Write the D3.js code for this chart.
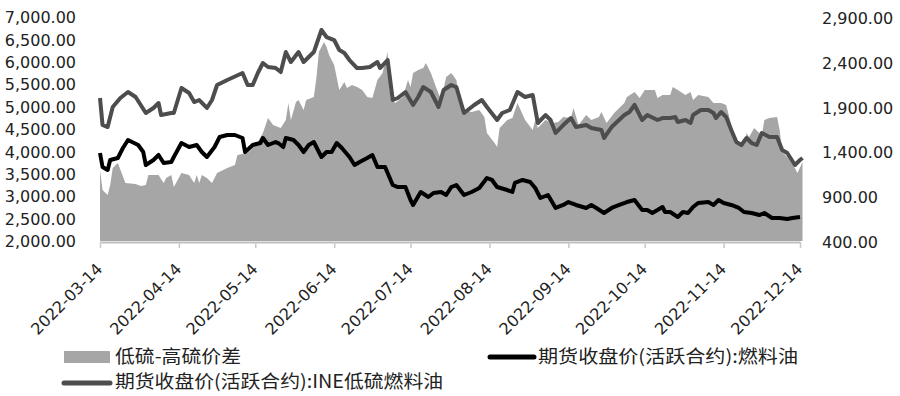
<!DOCTYPE html>
<html>
<head>
<meta charset="utf-8">
<script src="https://cdn.jsdelivr.net/npm/d3@7"></script>
<style>
  body { margin: 0; background: #fff; }
  svg text { font-family: "DejaVu Sans", sans-serif; fill: #222; }
  .legend text { font-family: "Noto Sans CJK SC", sans-serif; }
</style>
</head>
<body>
<div id="chart"></div>
<script>
// tick values
const xTicks = ["2022-03-14","2022-04-14","2022-05-14","2022-06-14","2022-07-14",
                "2022-08-14","2022-09-14","2022-10-14","2022-11-14","2022-12-14"];
const leftTicks  = [2000,2500,3000,3500,4000,4500,5000,5500,6000,6500,7000];
const rightTicks = [400,900,1400,1900,2400,2900];

// series names
const seriesNames = ["低硫-高硫价差", "期货收盘价(活跃合约):燃料油", "期货收盘价(活跃合约):INE低硫燃料油"];

// 低硫-高硫价差 (right axis)
const spread = [
  ["2022-03-14",1192],["2022-03-15",969],["2022-03-17",913],["2022-03-18",1025],["2022-03-19",1215],
  ["2022-03-21",1270],["2022-03-24",1047],["2022-03-28",1036],["2022-03-30",1014],["2022-04-01",1025],
  ["2022-04-02",1137],["2022-04-06",1137],["2022-04-08",1047],["2022-04-09",1103],["2022-04-11",1137],
  ["2022-04-12",1003],["2022-04-15",1159],["2022-04-18",1137],["2022-04-20",1047],["2022-04-21",1137],
  ["2022-04-22",1047],["2022-04-23",1137],["2022-04-25",1103],["2022-04-27",1047],["2022-04-29",1159],
  ["2022-05-03",1215],["2022-05-06",1248],["2022-05-07",1360],["2022-05-11",1382],["2022-05-13",1438],
  ["2022-05-15",1505],["2022-05-17",1605],["2022-05-19",1773],["2022-05-21",1695],["2022-05-23",1672],
  ["2022-05-24",1661],["2022-05-26",1750],["2022-05-27",1940],["2022-05-28",1750],["2022-05-30",1951],
  ["2022-05-31",1974],["2022-06-02",1862],["2022-06-03",1974],["2022-06-06",2007],["2022-06-07",2219],
  ["2022-06-08",2509],["2022-06-10",2621],["2022-06-11",2565],["2022-06-12",2476],["2022-06-14",2364],
  ["2022-06-16",2085],["2022-06-18",2174],["2022-06-19",2107],["2022-06-21",2141],["2022-06-23",2119],
  ["2022-06-25",2085],["2022-06-27",2007],["2022-06-29",1996],["2022-07-01",2197],["2022-07-03",2275],
  ["2022-07-05",2509],["2022-07-06",2007],["2022-07-08",1940],["2022-07-11",2007],["2022-07-13",2197],
  ["2022-07-14",2119],["2022-07-15",2275],["2022-07-17",2308],["2022-07-19",2331],["2022-07-20",2386],
  ["2022-07-22",2275],["2022-07-24",2119],["2022-07-26",1974],["2022-07-28",2230],["2022-07-30",2275],
  ["2022-08-01",2197],["2022-08-02",2007],["2022-08-04",1862],["2022-08-07",1840],["2022-08-10",1862],
  ["2022-08-12",1784],["2022-08-13",1605],["2022-08-16",1494],["2022-08-17",1449],["2022-08-18",1661],
  ["2022-08-21",1750],["2022-08-23",1773],["2022-08-25",1940],["2022-08-28",1750],["2022-08-31",1639],
  ["2022-09-01",1750],["2022-09-02",1661],["2022-09-05",1750],["2022-09-08",1717],["2022-09-10",1728],
  ["2022-09-12",1784],["2022-09-15",1773],["2022-09-16",1884],["2022-09-18",1695],["2022-09-21",1806],
  ["2022-09-23",1750],["2022-09-26",1784],["2022-09-27",1840],["2022-09-29",1717],["2022-10-02",1828],
  ["2022-10-06",1940],["2022-10-07",2007],["2022-10-10",2063],["2022-10-12",1996],["2022-10-14",2085],
  ["2022-10-18",2085],["2022-10-19",1996],["2022-10-21",2029],["2022-10-24",2029],["2022-10-25",2119],
  ["2022-10-27",2085],["2022-10-30",2029],["2022-11-01",2063],["2022-11-02",1974],["2022-11-04",2029],
  ["2022-11-08",2007],["2022-11-10",1940],["2022-11-13",1940],["2022-11-15",1918],["2022-11-16",1806],
  ["2022-11-18",1583],["2022-11-20",1471],["2022-11-22",1471],["2022-11-23",1605],["2022-11-24",1561],
  ["2022-11-26",1661],["2022-11-28",1605],["2022-11-29",1583],["2022-11-30",1750],["2022-12-02",1773],
  ["2022-12-05",1784],["2022-12-06",1639],["2022-12-07",1393],["2022-12-09",1337],["2022-12-12",1215],
  ["2022-12-13",1159],["2022-12-15",1282]
];

// 期货收盘价(活跃合约):燃料油 (left axis)
const fu = [
  ["2022-03-14",3964],["2022-03-15",3652],["2022-03-17",3585],["2022-03-18",3808],["2022-03-21",3853],
  ["2022-03-23",4076],["2022-03-25",4254],["2022-03-29",4143],["2022-03-31",3986],["2022-04-01",3696],
  ["2022-04-04",3808],["2022-04-06",3920],["2022-04-08",3741],["2022-04-11",3763],["2022-04-12",3875],
  ["2022-04-15",4187],["2022-04-18",4098],["2022-04-21",4143],["2022-04-23",3986],["2022-04-25",3875],
  ["2022-04-28",4098],["2022-04-30",4321],["2022-05-03",4366],["2022-05-06",4366],["2022-05-09",4299],
  ["2022-05-10",3986],["2022-05-13",4143],["2022-05-16",4187],["2022-05-17",4299],["2022-05-19",4143],
  ["2022-05-22",4210],["2022-05-23",4187],["2022-05-25",4098],["2022-05-26",4299],["2022-05-29",4254],
  ["2022-05-31",4143],["2022-06-02",3986],["2022-06-04",4143],["2022-06-06",4210],["2022-06-09",3875],
  ["2022-06-11",3986],["2022-06-13",3986],["2022-06-15",4187],["2022-06-17",4076],["2022-06-20",3875],
  ["2022-06-22",3696],["2022-06-24",3763],["2022-06-27",3853],["2022-06-29",3920],["2022-07-01",3652],
  ["2022-07-04",3652],["2022-07-07",3250],["2022-07-09",3205],["2022-07-12",3205],["2022-07-14",2915],
  ["2022-07-15",2804],["2022-07-18",3094],["2022-07-21",2982],["2022-07-23",3071],["2022-07-26",3094],
  ["2022-07-28",3027],["2022-07-30",3205],["2022-08-01",3250],["2022-08-04",3027],["2022-08-07",3094],
  ["2022-08-10",3183],["2022-08-13",3406],["2022-08-15",3362],["2022-08-17",3205],["2022-08-21",3138],
  ["2022-08-23",3094],["2022-08-24",3295],["2022-08-27",3362],["2022-08-30",3317],["2022-09-01",3183],
  ["2022-09-03",2960],["2022-09-06",3027],["2022-09-09",2737],["2022-09-12",2804],["2022-09-14",2870],
  ["2022-09-17",2804],["2022-09-21",2737],["2022-09-23",2804],["2022-09-25",2737],["2022-09-28",2625],
  ["2022-10-01",2737],["2022-10-04",2804],["2022-10-07",2870],["2022-10-10",2915],["2022-10-13",2692],
  ["2022-10-15",2692],["2022-10-17",2625],["2022-10-19",2692],["2022-10-21",2759],["2022-10-22",2647],
  ["2022-10-24",2647],["2022-10-27",2536],["2022-10-29",2647],["2022-10-31",2625],["2022-11-02",2759],
  ["2022-11-04",2848],["2022-11-08",2870],["2022-11-10",2804],["2022-11-12",2915],["2022-11-14",2848],
  ["2022-11-17",2804],["2022-11-20",2737],["2022-11-22",2647],["2022-11-25",2625],["2022-11-28",2580],
  ["2022-11-30",2625],["2022-12-03",2513],["2022-12-06",2513],["2022-12-09",2491],["2022-12-11",2513],
  ["2022-12-14",2536]
];

// 期货收盘价(活跃合约):INE低硫燃料油 (left axis)
const lu = [
  ["2022-03-14",5192],["2022-03-15",4589],["2022-03-17",4544],["2022-03-19",4991],["2022-03-22",5192],
  ["2022-03-25",5326],["2022-03-28",5214],["2022-03-30",5036],["2022-04-01",4857],["2022-04-04",4969],
  ["2022-04-06",5080],["2022-04-07",4812],["2022-04-11",4857],["2022-04-12",4857],["2022-04-15",5415],
  ["2022-04-18",5303],["2022-04-20",5102],["2022-04-22",5147],["2022-04-25",4969],["2022-04-27",5147],
  ["2022-04-29",5482],["2022-05-03",5594],["2022-05-09",5750],["2022-05-11",5482],["2022-05-13",5482],
  ["2022-05-15",5750],["2022-05-17",5973],["2022-05-19",5884],["2022-05-22",5861],["2022-05-24",5772],
  ["2022-05-26",6218],["2022-05-28",5995],["2022-05-31",6218],["2022-06-02",5995],["2022-06-06",6218],
  ["2022-06-09",6710],["2022-06-11",6553],["2022-06-14",6486],["2022-06-16",6263],["2022-06-18",6196],
  ["2022-06-20",6040],["2022-06-23",5861],["2022-06-25",5861],["2022-06-28",5884],["2022-07-01",5995],
  ["2022-07-02",5861],["2022-07-05",6040],["2022-07-07",5147],["2022-07-09",5192],["2022-07-12",5326],
  ["2022-07-15",5036],["2022-07-17",5214],["2022-07-19",5437],["2022-07-22",5326],["2022-07-25",4991],
  ["2022-07-27",5370],["2022-07-30",5482],["2022-08-01",5437],["2022-08-04",4857],["2022-08-08",5036],
  ["2022-08-11",5147],["2022-08-13",4991],["2022-08-17",4701],["2022-08-19",4857],["2022-08-22",4924],
  ["2022-08-25",5326],["2022-08-28",5214],["2022-08-31",5259],["2022-09-02",4634],["2022-09-05",4812],
  ["2022-09-07",4701],["2022-09-09",4411],["2022-09-12",4589],["2022-09-15",4745],["2022-09-17",4544],
  ["2022-09-21",4589],["2022-09-23",4522],["2022-09-27",4478],["2022-09-28",4299],["2022-10-01",4544],
  ["2022-10-06",4812],["2022-10-08",4879],["2022-10-10",5036],["2022-10-12",4812],["2022-10-13",4701],
  ["2022-10-15",4812],["2022-10-19",4701],["2022-10-21",4745],["2022-10-24",4745],["2022-10-26",4768],
  ["2022-10-27",4656],["2022-10-30",4701],["2022-11-01",4634],["2022-11-02",4812],["2022-11-05",4924],
  ["2022-11-08",4924],["2022-11-10",4857],["2022-11-11",4745],["2022-11-13",4879],["2022-11-15",4768],
  ["2022-11-17",4478],["2022-11-19",4210],["2022-11-21",4143],["2022-11-23",4299],["2022-11-25",4187],
  ["2022-11-27",4143],["2022-11-29",4411],["2022-12-02",4321],["2022-12-05",4321],["2022-12-07",4031],
  ["2022-12-09",3964],["2022-12-12",3696],["2022-12-14",3808],["2022-12-15",3853]
];

const W = 900, H = 396;
const parse = d3.timeParse("%Y-%m-%d");

const svg = d3.select("#chart").append("svg")
  .attr("width", W).attr("height", H);

const x = d3.scaleTime()
  .domain([parse(xTicks[0]), parse(xTicks[xTicks.length - 1])])
  .range([100, 800]);
const yL = d3.scaleLinear().domain([2000, 7000]).range([241, 17]);
const yR = d3.scaleLinear().domain([400, 2900]).range([241, 17]);

// area: spread
const area = d3.area()
  .x(d => x(parse(d[0])))
  .y0(yR(400))
  .y1(d => yR(d[1]));
svg.append("path")
  .datum(spread)
  .attr("d", area)
  .attr("fill", "#a6a6a6");

// lines
const lineL = d3.line()
  .x(d => x(parse(d[0])))
  .y(d => yL(d[1]));

svg.append("path")
  .datum(fu)
  .attr("d", lineL)
  .attr("fill", "none")
  .attr("stroke", "#000")
  .attr("stroke-width", 4)
  .attr("stroke-linejoin", "round");

svg.append("path")
  .datum(lu)
  .attr("d", lineL)
  .attr("fill", "none")
  .attr("stroke", "#4d4d4d")
  .attr("stroke-width", 4)
  .attr("stroke-linejoin", "round");

// axes
const fmt = d3.format(",.2f");

const gl = svg.append("g")
  .attr("transform", "translate(100,0)")
  .call(d3.axisLeft(yL).tickValues(leftTicks).tickFormat(fmt).tickSize(0).tickPadding(24));
gl.select(".domain").remove();
gl.selectAll("text").attr("font-size", 16).attr("font-family", null).attr("dy", "0.35em");

const gr = svg.append("g")
  .attr("transform", "translate(800,0)")
  .call(d3.axisRight(yR).tickValues(rightTicks).tickFormat(fmt).tickSize(0).tickPadding(22));
gr.select(".domain").remove();
gr.selectAll("text").attr("font-size", 16).attr("font-family", null).attr("dy", "0.4em");

const gx = svg.append("g")
  .attr("transform", "translate(0,242)")
  .call(d3.axisBottom(x).tickValues(xTicks.map(parse)).tickFormat(d3.timeFormat("%Y-%m-%d"))
    .tickSize(6).tickSizeOuter(0));
gx.select(".domain").attr("stroke", "#bfbfbf").attr("stroke-width", 2);
gx.selectAll(".tick line").attr("stroke", "#c8c8c8").attr("stroke-width", 1.5);
gx.selectAll(".tick text")
  .attr("font-size", 16)
  .attr("font-family", null)
  .attr("text-anchor", "end")
  .attr("x", 0).attr("y", 0).attr("dy", 0)
  .attr("transform", "translate(3,28) rotate(-45)");

// legend
const legend = svg.append("g").attr("class", "legend");
legend.append("rect")
  .attr("x", 64).attr("y", 351).attr("width", 46).attr("height", 12)
  .attr("fill", "#a6a6a6");
legend.append("text")
  .attr("x", 115).attr("y", 363)
  .attr("font-size", 18)
  .attr("textLength", 126).attr("lengthAdjust", "spacingAndGlyphs")
  .text(seriesNames[0]);

legend.append("line")
  .attr("x1", 490).attr("x2", 534).attr("y1", 357).attr("y2", 357)
  .attr("stroke", "#000").attr("stroke-width", 5).attr("stroke-linecap", "round");
legend.append("text")
  .attr("x", 538).attr("y", 363)
  .attr("font-size", 18)
  .attr("textLength", 260).attr("lengthAdjust", "spacingAndGlyphs")
  .text(seriesNames[1]);

legend.append("line")
  .attr("x1", 64).attr("x2", 110).attr("y1", 383).attr("y2", 383)
  .attr("stroke", "#4d4d4d").attr("stroke-width", 5).attr("stroke-linecap", "round");
legend.append("text")
  .attr("x", 115).attr("y", 388)
  .attr("font-size", 18)
  .attr("textLength", 328).attr("lengthAdjust", "spacingAndGlyphs")
  .text(seriesNames[2]);
</script>
</body>
</html>
